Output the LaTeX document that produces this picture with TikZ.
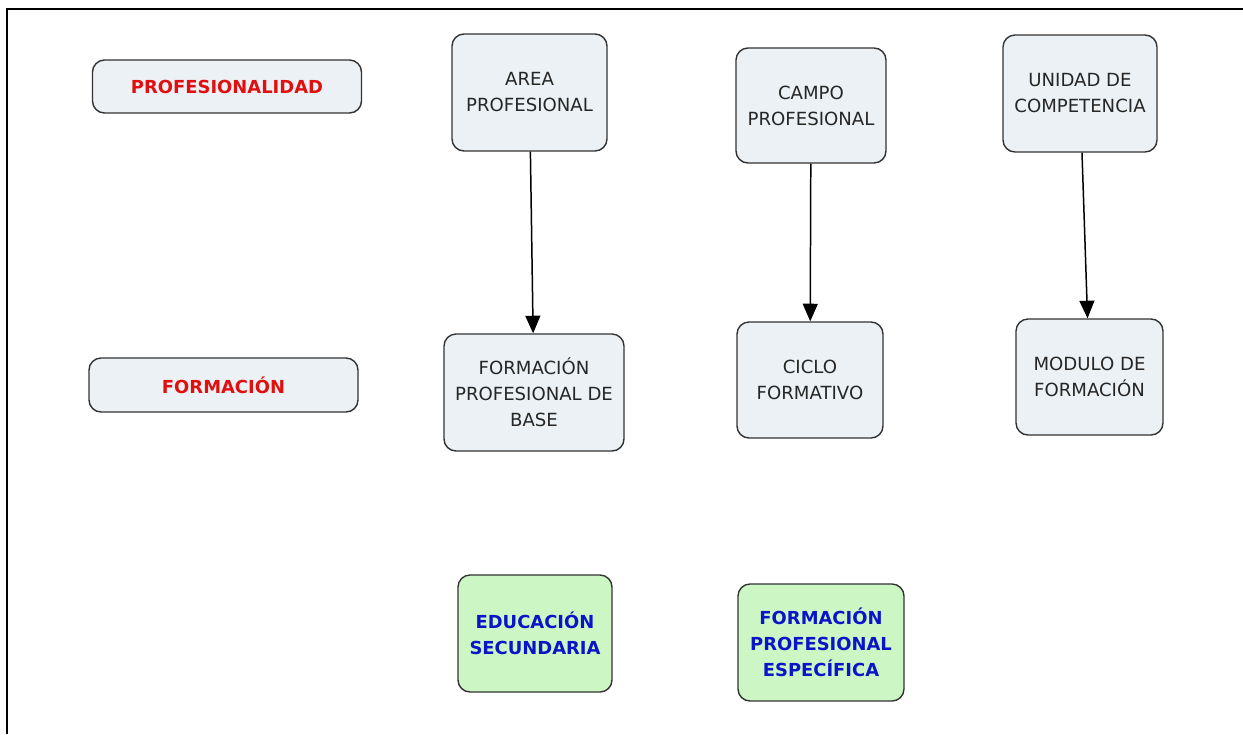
\documentclass[tikz,border=0pt]{standalone}
\usepackage{fontspec}
\setmainfont{DejaVu Sans}
\usetikzlibrary{arrows.meta}
\definecolor{cajagris}{HTML}{EBF1F4}
\definecolor{cajaverde}{HTML}{CCF7C4}
\definecolor{rojotexto}{HTML}{E01010}
\definecolor{azultexto}{HTML}{0A14C8}
\tikzset{
	caja/.style={draw=black!80, line width=0.8pt, rounded corners=0.24cm, fill=cajagris, align=center, text=black!85, font=\fontsize{10.3}{14.8}\selectfont, inner sep=0pt},
	etiqueta/.style={caja, font=\fontsize{10.2}{14.8}\selectfont\bfseries, text=rojotexto},
	verde/.style={caja, fill=cajaverde, font=\fontsize{10.2}{14.8}\selectfont\bfseries, text=azultexto},
	flecha/.style={-{Triangle[length=10pt,width=8.5pt]}, line width=0.85pt}
}

\begin{document}
\begin{tikzpicture}
					\useasboundingbox (0,0) rectangle (24.86,-14.68);
					%MARCO
					\draw[line width=1.1pt] (0.14,-14.68) -- (0.14,-0.18) -- (24.86,-0.18);
					%FILA PROFESIONALIDAD
					\node[etiqueta, minimum width=5.38cm, minimum height=1.06cm] (prof) at (4.54,-1.73) {PROFESIONALIDAD};
					\node[caja, minimum width=3.10cm, minimum height=2.34cm] (area) at (10.59,-1.85) {AREA\\PROFESIONAL};
					\node[caja, minimum width=3.00cm, minimum height=2.30cm] (campo) at (16.22,-2.11) {CAMPO\\PROFESIONAL};
					\node[caja, minimum width=3.08cm, minimum height=2.34cm] (unidad) at (21.60,-1.87) {UNIDAD DE\\COMPETENCIA};
					%FILA FORMACION
					\node[etiqueta, minimum width=5.38cm, minimum height=1.08cm] (form) at (4.47,-7.70) {FORMACIÓN};
					\node[caja, minimum width=3.60cm, minimum height=2.34cm] (fpb) at (10.68,-7.85) {FORMACIÓN\\PROFESIONAL DE\\BASE};
					\node[caja, minimum width=2.92cm, minimum height=2.32cm] (ciclo) at (16.20,-7.60) {CICLO\\FORMATIVO};
					\node[caja, minimum width=2.94cm, minimum height=2.32cm] (modulo) at (21.79,-7.54) {MODULO DE\\FORMACIÓN};
					%CAJAS VERDES
					\node[verde, minimum width=3.08cm, minimum height=2.34cm] (edu) at (10.70,-12.67) {EDUCACIÓN\\SECUNDARIA};
					\node[verde, minimum width=3.32cm, minimum height=2.34cm] (fpe) at (16.42,-12.85) {FORMACIÓN\\PROFESIONAL\\ESPECÍFICA};
					%FLECHAS
					\draw[flecha] (area) -- (fpb);
					\draw[flecha] (campo) -- (ciclo);
					\draw[flecha] (unidad) -- (modulo);
				  \end{tikzpicture}
\end{document}
